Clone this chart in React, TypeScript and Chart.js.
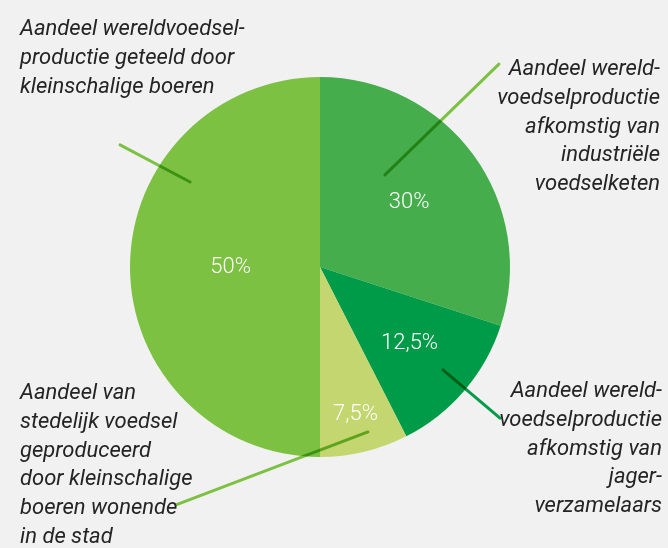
import React, { useEffect, useRef } from 'react';
import { Chart, registerables } from 'chart.js';

Chart.register(...registerables);

// Slices in drawing order (clockwise from 12 o'clock)
const categories = [
  'Industriële voedselketen',
  'Jager-verzamelaars',
  'Stedelijke kleinschalige boeren',
  'Kleinschalige boeren',
];
const values = [30, 12.5, 7.5, 50];
const sliceColors = ['#45ad4b', '#009b48', '#c3d66f', '#7cc142'];

// Callout texts, one per slice
const calloutTexts: string[][] = [
  ['Aandeel wereld-', 'voedselproductie', 'afkomstig van', 'industriële', 'voedselketen'],
  ['Aandeel wereld-', 'voedselproductie', 'afkomstig van', 'jager-', 'verzamelaars'],
  ['Aandeel van', 'stedelijk voedsel', 'geproduceerd', 'door kleinschalige', 'boeren wonende', 'in de stad'],
  ['Aandeel wereldvoedsel-', 'productie geteeld door', 'kleinschalige boeren'],
];

// Layout for callouts (styling, not data)
const calloutLayout = [
  { x: 660, y: 75, align: 'right' },
  { x: 662, y: 397, align: 'right' },
  { x: 20, y: 399, align: 'left' },
  { x: 20, y: 35, align: 'left' },
];
// leader lines in polar terms relative to the pie (deg clockwise from top, radius ratio)
const leaderLayout = [
  { a1: 35.2, r1: 0.593, a2: 41.4, r2: 1.424, color: '#7cc142' },
  { a1: 129.9, r1: 0.844, a2: 130.0, r2: 1.237, color: '#009b48' },
  { a1: 163.8, r1: 0.904, a2: 211.2, r2: 1.464, color: '#7cc142' },
  { a1: 303.2, r1: 0.817, a2: 301.4, r2: 1.233, color: '#7cc142' },
];
const pctRadius = [0.58, 0.62, 0.8, 0.47];

const fmt = (v: number) => String(v).replace('.', ',') + '%';

const overlayPlugin = {
  id: 'overlay',
  afterDatasetsDraw(chart: any) {
    const ctx = chart.ctx as CanvasRenderingContext2D;
    const meta = chart.getDatasetMeta(0);
    const arc0 = meta.data[0] as any;
    const cx = arc0.x;
    const cy = arc0.y;
    const R = arc0.outerRadius;
    const pt = (deg: number, r: number) => {
      const t = (deg * Math.PI) / 180;
      return [cx + Math.sin(t) * r * R, cy - Math.cos(t) * r * R];
    };
    ctx.save();
    // percentage labels
    ctx.fillStyle = '#ffffff';
    ctx.font = '300 22px Roboto';
    ctx.textAlign = 'center';
    ctx.textBaseline = 'middle';
    meta.data.forEach((arc: any, i: number) => {
      const mid = (arc.startAngle + arc.endAngle) / 2;
      const r = pctRadius[i] * R;
      ctx.fillText(fmt(values[i]), cx + Math.cos(mid) * r, cy + Math.sin(mid) * r);
    });
    // leader lines
    ctx.globalCompositeOperation = 'multiply';
    ctx.lineWidth = 3;
    ctx.lineCap = 'round';
    leaderLayout.forEach((l) => {
      const [x1, y1] = pt(l.a1, l.r1);
      const [x2, y2] = pt(l.a2, l.r2);
      ctx.strokeStyle = l.color;
      ctx.beginPath();
      ctx.moveTo(x1, y1);
      ctx.lineTo(x2, y2);
      ctx.stroke();
    });
    ctx.globalCompositeOperation = 'source-over';
    // callout texts
    ctx.fillStyle = '#242424';
    ctx.font = 'italic 22px Roboto';
    ctx.textBaseline = 'alphabetic';
    calloutTexts.forEach((lines, i) => {
      const lay = calloutLayout[i];
      ctx.textAlign = lay.align as CanvasTextAlign;
      lines.forEach((s, j) => ctx.fillText(s, lay.x, lay.y + j * 28.8));
    });
    ctx.restore();
  },
};

export default function App() {
  const ref = useRef<HTMLCanvasElement>(null);
  useEffect(() => {
    if (!ref.current) return;
    const chart = new Chart(ref.current, {
      type: 'pie',
      data: {
        labels: categories,
        datasets: [
          {
            data: values,
            backgroundColor: sliceColors,
            borderWidth: 0,
          },
        ],
      },
      options: {
        animation: false,
        responsive: false,
        events: [],
        layout: { padding: { left: 130, right: 158, top: 77, bottom: 91 } },
        plugins: { legend: { display: false }, tooltip: { enabled: false } },
      },
      plugins: [overlayPlugin],
    });
    return () => chart.destroy();
  }, []);
  return (
    <div style={{ position: 'fixed', left: 0, top: 0, width: 668, height: 548, background: '#f1f1f1' }}>
      <canvas ref={ref} width={668} height={548} />
    </div>
  );
}
